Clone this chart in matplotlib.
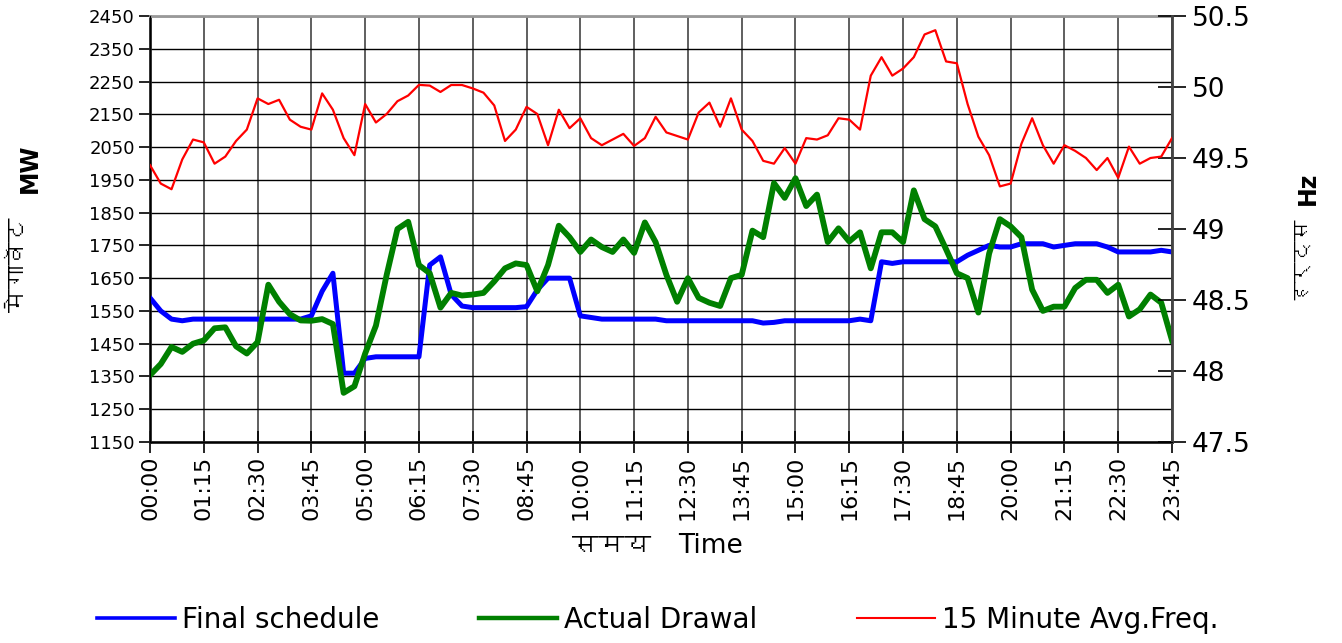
import numpy as np
import matplotlib
matplotlib.use('Agg')
import matplotlib.pyplot as plt
from matplotlib.lines import Line2D
from matplotlib import font_manager
from matplotlib.ft2font import FT2Font

# 96 blocks of 15 minutes, 00:00 .. 23:45
tick_labels = ['00:00', '01:15', '02:30', '03:45', '05:00', '06:15', '07:30',
               '08:45', '10:00', '11:15', '12:30', '13:45', '15:00', '16:15',
               '17:30', '18:45', '20:00', '21:15', '22:30', '23:45']

final_schedule = [1590, 1550, 1525, 1520, 1525, 1525, 1525, 1525, 1525, 1525,
                  1525, 1525, 1525, 1525, 1525, 1535, 1610, 1665, 1360, 1360,
                  1405, 1410, 1410, 1410, 1410, 1410, 1690, 1715, 1600, 1565,
                  1560, 1560, 1560, 1560, 1560, 1563, 1614, 1650, 1650, 1650,
                  1535, 1530, 1525, 1525, 1525, 1525, 1525, 1525, 1520, 1520,
                  1520, 1520, 1520, 1520, 1520, 1520, 1520, 1513, 1515, 1520,
                  1520, 1520, 1520, 1520, 1520, 1520, 1525, 1520, 1700, 1695,
                  1700, 1700, 1700, 1700, 1700, 1700, 1720, 1735, 1750, 1745,
                  1745, 1755, 1755, 1755, 1745, 1750, 1755, 1755, 1755, 1745,
                  1730, 1730, 1730, 1730, 1735, 1730]

actual_drawal = [1354, 1388, 1440, 1425, 1450, 1460, 1497, 1500, 1442, 1420,
                 1455, 1630, 1578, 1540, 1521, 1520, 1525, 1510, 1300, 1320,
                 1420, 1505, 1660, 1800, 1822, 1690, 1665, 1560, 1605, 1597,
                 1600, 1605, 1640, 1680, 1695, 1690, 1610, 1690, 1810, 1775,
                 1730, 1768, 1745, 1730, 1768, 1727, 1820, 1760, 1660, 1578,
                 1650, 1590, 1575, 1565, 1650, 1660, 1795, 1775, 1940, 1895,
                 1955, 1870, 1905, 1760, 1802, 1762, 1790, 1680, 1790, 1790,
                 1760, 1918, 1830, 1808, 1738, 1665, 1650, 1545, 1725, 1830,
                 1808, 1775, 1615, 1550, 1563, 1563, 1620, 1645, 1645, 1605,
                 1630, 1533, 1555, 1600, 1575, 1460]

avg_freq = [49.45, 49.32, 49.28, 49.49, 49.63, 49.61, 49.46, 49.51, 49.62, 49.70,
            49.92, 49.88, 49.91, 49.77, 49.72, 49.70, 49.955, 49.84, 49.64, 49.52,
            49.88, 49.75, 49.81, 49.90, 49.94, 50.015, 50.01, 49.965, 50.014, 50.014,
            49.99, 49.96, 49.87, 49.62, 49.70, 49.86, 49.81, 49.59, 49.84, 49.71,
            49.78, 49.64, 49.59, 49.63, 49.67, 49.585, 49.64, 49.79, 49.68, 49.655,
            49.63, 49.82, 49.89, 49.72, 49.92, 49.70, 49.62, 49.48, 49.46, 49.57,
            49.46, 49.64, 49.63, 49.66, 49.78, 49.77, 49.70, 50.08, 50.21, 50.08,
            50.13, 50.21, 50.37, 50.40, 50.18, 50.167, 49.88, 49.65, 49.52, 49.30,
            49.32, 49.60, 49.78, 49.59, 49.46, 49.59, 49.55, 49.50, 49.415, 49.50,
            49.36, 49.58, 49.46, 49.50, 49.51, 49.64]

# look for a font that has Devanagari, otherwise fall back to DejaVu
deva = None
for fe in font_manager.fontManager.ttflist:
    try:
        if 0x0938 in FT2Font(fe.fname).get_charmap():
            deva = fe.name
            break
    except Exception:
        pass
hindi_family = [deva, 'DejaVu Sans'] if deva else ['DejaVu Sans']

plt.rcParams['font.family'] = 'DejaVu Sans'

x = np.arange(len(final_schedule))

fig = plt.figure(figsize=(13.42, 6.43), dpi=100)
ax = fig.add_axes([150/1342, 1 - 442/643, (1172 - 150)/1342, (442 - 16)/643])

ax.plot(x, final_schedule, color='#0000FF', lw=3.6, zorder=3, solid_joinstyle='round')
ax.plot(x, actual_drawal, color='#008000', lw=4.2, zorder=4, solid_joinstyle='round')
ax.set_xlim(0, 95)
ax.set_ylim(1150, 2450)
ax.set_yticks(np.arange(1150, 2451, 100))
ax.set_xticks(np.arange(0, 96, 5))
ax.set_xticklabels(tick_labels, rotation=90, fontsize=16)
ax.tick_params(axis='y', labelsize=13, length=8, width=1.2, pad=3)
ax.tick_params(axis='x', direction='inout', length=16, width=1.2, pad=2)
ax.grid(axis='y', color='black', lw=1.0)
ax.grid(axis='x', color='#444444', lw=1.2)
for s in ['left', 'bottom']:
    ax.spines[s].set_linewidth(2)
    ax.spines[s].set_color('#222222')
ax.spines['top'].set_color('#999999')
ax.spines['top'].set_linewidth(2)

bx = ax.twinx()
bx.plot(x, avg_freq, color='#FF0000', lw=1.6, zorder=5, solid_joinstyle='round')
bx.set_ylim(47.5, 50.5)
bx.set_yticks([47.5, 48, 48.5, 49, 49.5, 50, 50.5])
bx.set_yticklabels(['47.5', '48', '48.5', '49', '49.5', '50', '50.5'])
bx.tick_params(axis='y', labelsize=19, direction='inout', length=20, width=1.2, pad=4)
bx.spines['right'].set_linewidth(2)
bx.spines['right'].set_color('#444444')
bx.spines['top'].set_visible(False)

# axis titles (Hindi + English)
fig.text(18/1342, 1 - 265/643, 'मेगावॅट', rotation=90, ha='center', va='center',
         fontsize=17, fontweight='bold', family=hindi_family)
fig.text(30/1342, 1 - 168/643, 'MW', rotation=90, ha='center', va='center',
         fontsize=17, fontweight='bold')
fig.text(1300/1342, 1 - 258/643, 'हर्ट्स', rotation=90, ha='center', va='center',
         fontsize=15, fontweight='bold', family=hindi_family)
fig.text(1308/1342, 1 - 188/643, 'Hz', rotation=90, ha='center', va='center',
         fontsize=17, fontweight='bold')
fig.text(612/1342, 1 - 546/643, 'समय', ha='center', va='center',
         fontsize=19, fontweight='bold', family=hindi_family)
fig.text(710/1342, 1 - 546/643, 'Time', ha='center', va='center', fontsize=19)

handles = [Line2D([], [], color='#0000FF', lw=2.6),
           Line2D([], [], color='#008000', lw=3.2),
           Line2D([], [], color='#FF0000', lw=1.5)]
fig.legend(handles, ['Final schedule', 'Actual Drawal', '15 Minute Avg.Freq.'],
           loc='center', bbox_to_anchor=(658/1342, 1 - 620/643), ncol=3,
           frameon=False, fontsize=20, handlelength=2.8, handletextpad=0.25,
           columnspacing=3.6)

plt.savefig('out.png', dpi=100)
